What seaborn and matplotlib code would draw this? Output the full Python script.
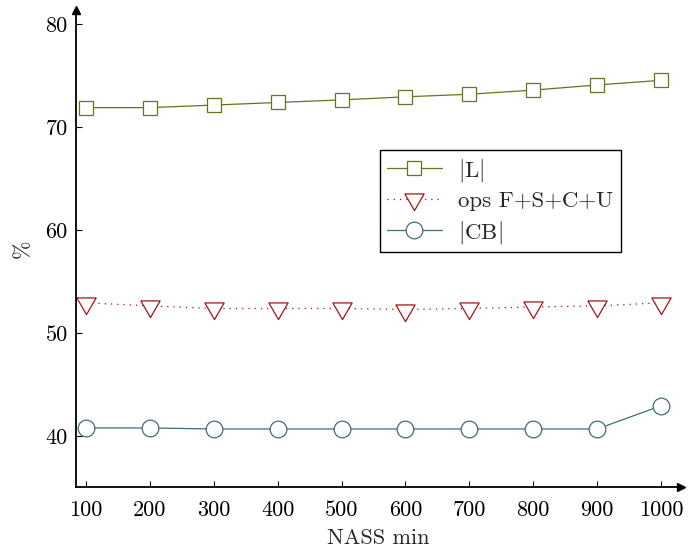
import numpy as np
import pandas as pd
import matplotlib
matplotlib.use("Agg")
import matplotlib.pyplot as plt
import seaborn as sns

# ---- data ----
nass_min = [100, 200, 300, 400, 500, 600, 700, 800, 900, 1000]
l_values = [71.9, 71.9, 72.15, 72.4, 72.65, 72.95, 73.2, 73.6, 74.1, 74.55]
ops_values = [52.95, 52.65, 52.4, 52.4, 52.4, 52.3, 52.4, 52.55, 52.65, 52.95]
cb_values = [40.8, 40.8, 40.7, 40.7, 40.7, 40.7, 40.7, 40.7, 40.7, 42.95]
series_labels = [r"$|$L$|$", "ops F+S+C+U", r"$|$CB$|$"]
x_ticks = [100, 200, 300, 400, 500, 600, 700, 800, 900, 1000]
y_ticks = [40, 50, 60, 70, 80]

sns.set_theme(style="white")
plt.rcParams["font.family"] = ["cmr10", "DejaVu Serif"]
plt.rcParams["mathtext.fontset"] = "cm"
plt.rcParams["axes.formatter.use_mathtext"] = True

W, H = 688, 549
fig = plt.figure(figsize=(W / 100, H / 100), dpi=100)
left_px, right_px, bottom_px, top_px = 76, 681, 487, 10
ax = fig.add_axes([left_px / W, 1 - bottom_px / H,
                   (right_px - left_px) / W, (bottom_px - top_px) / H])

col_l = "#66731f"
col_ops = "#a31515"
col_cb = "#3f6e7c"
tri = [(-0.866, 0.5), (0.866, 0.5), (0.0, -1.0), (-0.866, 0.5)]

df = pd.DataFrame({"x": nass_min, "L": l_values, "ops": ops_values, "CB": cb_values})

sns.lineplot(data=df, x="x", y="L", ax=ax, color=col_l, lw=0.9, marker="s",
             markersize=10, markerfacecolor="white", markeredgecolor=col_l,
             markeredgewidth=0.9, label=series_labels[0])
sns.lineplot(data=df, x="x", y="ops", ax=ax, color=col_ops, lw=0.9, linestyle=(0, (1, 4)),
             marker=tri, markersize=16, markerfacecolor="white", markeredgecolor=col_ops,
             markeredgewidth=0.9, label=series_labels[1])
sns.lineplot(data=df, x="x", y="CB", ax=ax, color=col_cb, lw=0.9, marker="o",
             markersize=12, markerfacecolor="white", markeredgecolor=col_cb,
             markeredgewidth=0.9, label=series_labels[2])

# scales from pixel calibration
x_per_px = 900 / (661 - 86)
y_px_per_unit = 10.3
y40_px = 436.2
ax.set_xlim(100 - (86 - left_px) * x_per_px, 1000 + (right_px - 661) * x_per_px)
ax.set_ylim(40 - (bottom_px - y40_px) / y_px_per_unit, 40 + (y40_px - top_px) / y_px_per_unit)

ax.set_xticks(x_ticks)
ax.set_yticks(y_ticks)
ax.set_xticklabels([str(v) for v in x_ticks])
ax.set_yticklabels([str(v) for v in y_ticks])
ax.tick_params(axis="both", direction="in", length=4, width=0.8, colors="black",
               labelsize=16, left=True, bottom=True)
ax.tick_params(axis="x", pad=10)
ax.tick_params(axis="y", pad=6)

for s in ["top", "right"]:
    ax.spines[s].set_visible(False)
for s in ["left", "bottom"]:
    ax.spines[s].set_color("black")
    ax.spines[s].set_linewidth(1.3)

# axis arrows
ax.plot(1, 0, marker=">", color="black", markersize=6, transform=ax.transAxes, clip_on=False)
ax.plot(0, 1, marker="^", color="black", markersize=6, transform=ax.transAxes, clip_on=False)

ax.set_xlabel("NASS min", fontsize=16, labelpad=6)
ax.set_ylabel("%", fontsize=16, labelpad=9)

leg = ax.legend(loc="upper left", bbox_to_anchor=(380 / W, 1 - 150 / H),
                bbox_transform=fig.transFigure, borderaxespad=0, fontsize=16.5,
                frameon=True, fancybox=False, edgecolor="black", framealpha=1,
                handlelength=2.4, handletextpad=0.72, labelspacing=0.32,
                borderpad=0.3)
leg.get_frame().set_linewidth(1.0)

fig.savefig("out.png", dpi=100)
